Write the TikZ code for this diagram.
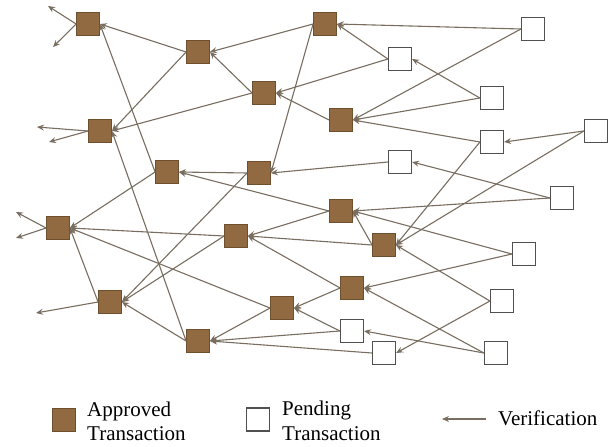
\documentclass[tikz,border=0pt]{standalone}
\usepackage{fontspec}
\setmainfont{Liberation Serif}
\usetikzlibrary{arrows.meta}
\definecolor{appfill}{HTML}{916A42}
\definecolor{appdraw}{HTML}{6E4F2E}
\definecolor{penddraw}{HTML}{505050}
\definecolor{edgecol}{HTML}{786D5F}
\tikzset{
  approved/.style={draw=appdraw, fill=appfill, line width=0.8pt, minimum size=23pt, inner sep=0pt},
  pending/.style={draw=penddraw, fill=white, line width=1.2pt, minimum size=23pt, inner sep=0pt},
  edge/.style={draw=edgecol, line width=1.1pt, -{Stealth[length=7pt,width=6pt,inset=2.5pt]}},
  legtext/.style={font=\fontsize{21}{24}\selectfont, inner sep=0pt, anchor=base west}
}
\begin{document}
\begin{tikzpicture}[x=1pt,y=-1pt]
\useasboundingbox (0,0) rectangle (608,447);
% approved
\node[approved] (A1) at (88,24) {};
\node[approved] (A2) at (198,52) {};
\node[approved] (A3) at (325,24) {};
\node[approved] (A4) at (264,93) {};
\node[approved] (A5) at (341,120) {};
\node[approved] (A6) at (100,131) {};
\node[approved] (A7) at (167,172) {};
\node[approved] (A8) at (259,173) {};
\node[approved] (A9) at (341,211) {};
\node[approved] (A10) at (58,228) {};
\node[approved] (A11) at (236,236) {};
\node[approved] (A12) at (384,245) {};
\node[approved] (A13) at (110,302) {};
\node[approved] (A14) at (352,288) {};
\node[approved] (A15) at (282,308) {};
\node[approved] (A16) at (198,341) {};
% pending
\node[pending] (W1) at (533,29) {};
\node[pending] (W2) at (400,59) {};
\node[pending] (W3) at (492,98) {};
\node[pending] (W4) at (492,142) {};
\node[pending] (W5) at (596,131) {};
\node[pending] (W6) at (400,162) {};
\node[pending] (W7) at (562,198) {};
\node[pending] (W8) at (524,254) {};
\node[pending] (W9) at (502,301) {};
\node[pending] (W10) at (352,331) {};
\node[pending] (W11) at (384,353) {};
\node[pending] (W12) at (496,353) {};
% free ends
\coordinate (F1) at (48,6);
\coordinate (F2) at (53,47);
\coordinate (F3) at (37,127);
\coordinate (F4) at (49,142);
\coordinate (F5) at (16,212);
\coordinate (F6) at (16,238);
\coordinate (F7) at (36,313);
\foreach \s/\t in {A1/F1,A1/F2,A6/F3,A6/F4,A10/F5,A10/F6,A13/F7}
  \draw[edge] (\s.west) -- (\t);
\foreach \s/\t in {A2/A1,A7/A1,A3/A2,A4/A2,A2/A6,A4/A6,A16/A6,A3/A8,W1/A3,W2/A3,
  W2/A4,A5/A4,W1/A5,W3/A5,W4/A5,W3/W2,W5/W4,W6/A8,W7/W6,A8/A7,A9/A7,A7/A10,
  A8/A13,A11/A13,A11/A10,A15/A10,A13/A10,A16/A13,A15/A16,W10/A16,W11/A16,
  A9/A11,A12/A11,A14/A11,A12/A9,W7/A9,W8/A9,W4/A12,W5/A12,W9/A12,W8/A14,
  W12/A14,A14/A15,W10/A15,W9/W11,W12/W10}
  \draw[edge] (\s.west) -- (\t.east);
% legend
\node[approved] (LA) at (63.5,419.5) {};
\node[legtext] (LAt1) at (87,416) {Approved};
\node[legtext] (LAt2) at (87,440) {Transaction};
\node[pending] (LP) at (258,419.5) {};
\node[legtext] (LPt1) at (282,415) {Pending};
\node[legtext] (LPt2) at (282,440) {Transaction};
\coordinate (LVs) at (486,419);
\coordinate (LVe) at (442,419);
\draw[edge] (LVs) -- (LVe);
\node[legtext] (LVt) at (498,425) {Verification};
\end{tikzpicture}
\end{document}
